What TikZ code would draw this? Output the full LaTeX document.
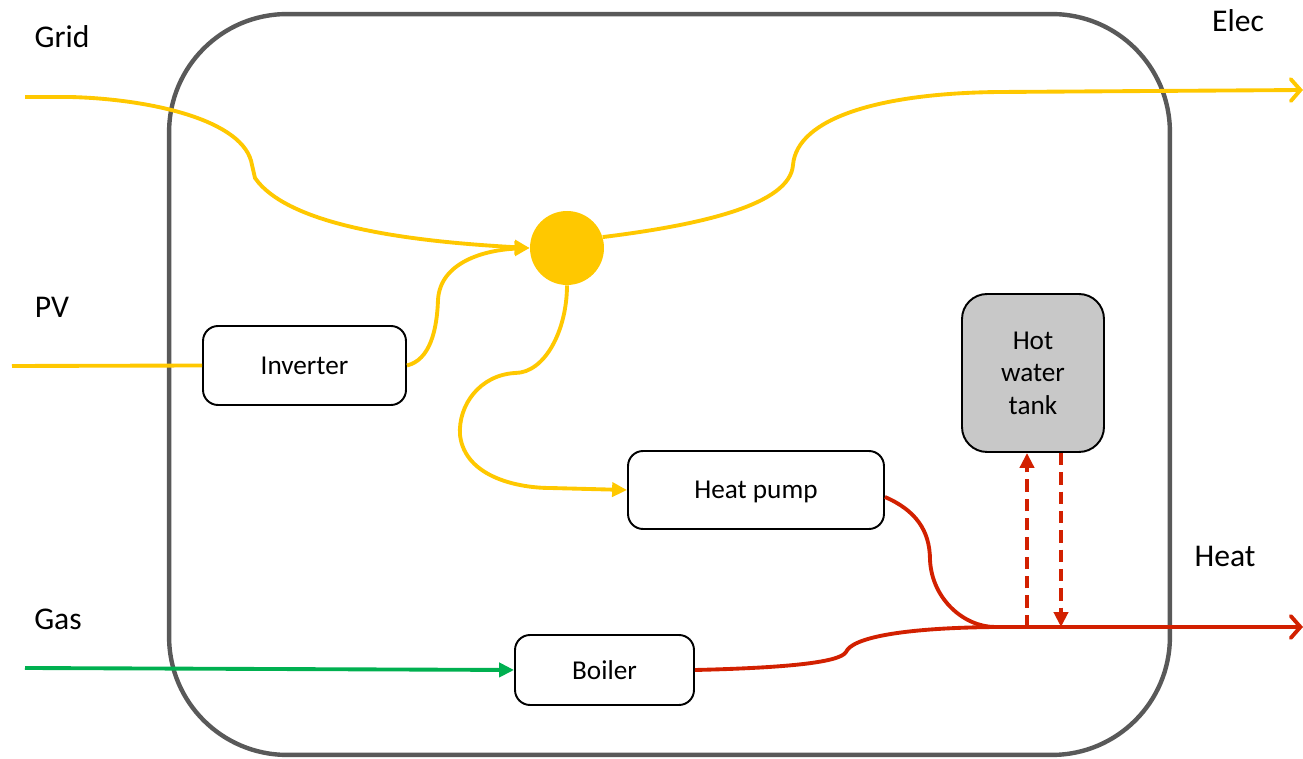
\documentclass[tikz,border=0pt]{standalone}
\usepackage{fontspec}
\setmainfont{Carlito}
\usetikzlibrary{arrows.meta,calc}
\definecolor{elecY}{RGB}{255,200,0}
\definecolor{heatR}{RGB}{210,32,0}
\definecolor{gasG}{RGB}{0,176,80}
\definecolor{frameG}{RGB}{89,89,89}
\definecolor{tankG}{RGB}{200,200,200}
\tikzset{
  unit/.style={draw=black, line width=1.1pt, rounded corners=0.3cm, fill=white,
    font=\fontsize{15.5}{18.5}\selectfont, align=center, inner sep=0pt, text depth=-4pt},
  tankbox/.style={unit, fill=tankG, rounded corners=0.5cm, font=\fontsize{15.5}{18.5}\selectfont},
  carrier/.style={font=\fontsize{18}{21}\selectfont, inner sep=0pt},
  eflow/.style={draw=elecY, line width=2.2pt},
  hflow/.style={draw=heatR, line width=2.2pt},
  gflow/.style={draw=gasG, line width=2.2pt},
  fillhead/.style={-{Triangle[length=8.5pt,width=8pt]}},
  openhead/.style={-{Straight Barb[length=5.5pt,width=12.5pt,line cap=round]}},
  storeflow/.style={hflow, dash pattern=on 7pt off 4pt, -{Triangle[length=8.5pt,width=8pt]}},
}
\begin{document}
\begin{tikzpicture}[x=0.02cm, y=-0.02cm]
\useasboundingbox (0,0) rectangle (1303,759);

% system boundary
\node[draw=frameG, line width=2.5pt, rounded corners=2.36cm,
      minimum width=20.02cm, minimum height=14.82cm, inner sep=0pt]
      (frame) at (669.5,384.5) {};

% carrier labels
\node[carrier] (lgrid) at (62,37) {Grid};
\node[carrier] (lelec) at (1238,21) {Elec};
\node[carrier] (lpv)   at (52,307) {PV};
\node[carrier] (lheat) at (1225,556) {Heat};
\node[carrier] (lgas)  at (58,619) {Gas};

% conversion units
\node[unit, minimum width=4.06cm, minimum height=1.58cm] (inv) at (304.5,365.5) {Inverter};
\node[unit, minimum width=5.12cm, minimum height=1.56cm] (hp)  at (756,490) {Heat pump};
\node[unit, minimum width=3.58cm, minimum height=1.40cm] (bo)  at (604.5,670) {Boiler};
\node[tankbox, minimum width=2.84cm, minimum height=3.16cm] (tank) at (1033,373) {Hot\\water\\tank};

% electricity bus
\node[circle, fill=elecY, minimum size=1.48cm, inner sep=0pt] (bus) at (567,248) {};

% free ends and junctions
\coordinate (gridin) at (25,97);
\coordinate (pvin)   at (12,366);
\coordinate (gasin)  at (25,668);
\coordinate (elecout) at (1303,90);
\coordinate (heatout) at (1303,627);
\coordinate (hj)  at (995,627);
\coordinate (chg) at (1027,627);
\coordinate (dis) at (1061,627);

% electricity flows
\draw[eflow, fillhead] (gridin) -- (70,97)
  .. controls (150,99) and (245,120) .. (252,165) -- (255,178)
  .. controls (290,228) and (420,242) .. (bus.west);
\draw[eflow] (pvin) -- (inv.west);
\draw[eflow, fillhead] (inv.east)
  .. controls (430,360) and (437,330) .. (438,300)
  .. controls (440,262) and (485,250) .. (bus.west);
\draw[eflow, openhead] (bus.17)
  .. controls (700,225) and (790,205) .. (793,165)
  .. controls (797,118) and (880,93) .. (1000,92) -- (elecout);
\draw[eflow, fillhead] (bus.south)
  .. controls (567,330) and (545,373) .. (515,373)
  .. controls (480,375) and (458,405) .. (460,435)
  .. controls (465,478) and (520,488) .. (550,488) -- (hp.west);

% gas flow
\draw[gflow, fillhead] (gasin) -- (bo.west);

% heat flows
\draw[hflow] ($(hp.east)+(0,7)$)
  .. controls (915,510) and (930,530) .. (930,560)
  .. controls (932,600) and (965,627) .. (hj);
\draw[hflow, openhead] (bo.east)
  .. controls (780,668) and (840,663) .. (846,652)
  .. controls (852,638) and (900,628) .. (hj) -- (heatout);

% storage charge / discharge
\draw[storeflow] (chg) -- (chg |- tank.south);
\draw[storeflow] (dis |- tank.south) -- (dis);
\end{tikzpicture}
\end{document}
